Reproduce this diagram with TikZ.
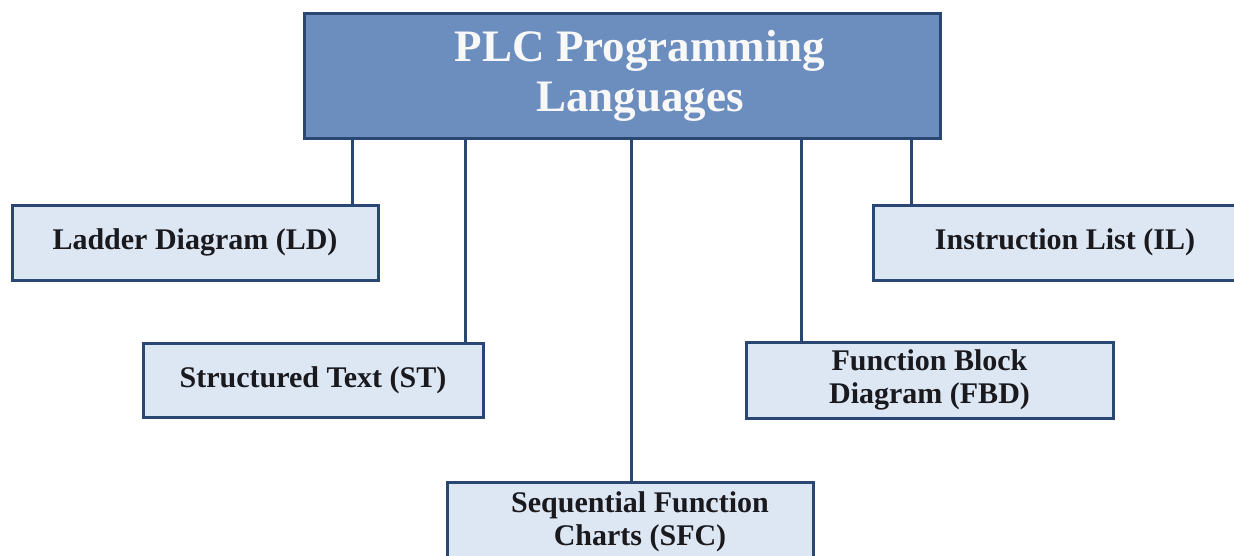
\documentclass[tikz,border=0pt]{standalone}
\usepackage{fontspec}
\setmainfont{Liberation Serif}
\definecolor{topfill}{RGB}{108,142,191}
\definecolor{edgeblue}{RGB}{42,70,115}
\definecolor{childfill}{RGB}{221,231,243}
\definecolor{titletext}{RGB}{248,248,248}
\definecolor{childtext}{RGB}{25,25,30}
\begin{document}
\begin{tikzpicture}[x=1pt,y=-1pt,
  topbox/.style={draw=edgeblue, line width=3pt, fill=topfill, text=titletext,
    font=\fontsize{45}{50}\selectfont\bfseries, align=center, inner sep=0pt},
  childbox/.style={draw=edgeblue, line width=3pt, fill=childfill, text=childtext,
    font=\fontsize{30}{32.5}\selectfont\bfseries, align=center, inner sep=0pt},
  link/.style={draw=edgeblue, line width=3pt}]
\useasboundingbox (0,0) rectangle (1234,555);
\fill[white] (0,0) rectangle (1234,555);

\node[topbox, minimum width=636pt, minimum height=125pt] (top) at (622,75.5)
  {\hspace*{36pt}PLC Programming\\\hspace*{36pt}Languages};

\node[childbox, minimum width=366pt, minimum height=75pt] (ld) at (195,242.5)
  {Ladder Diagram (LD)};
\node[childbox, minimum width=340pt, minimum height=74pt] (st) at (313,380)
  {Structured Text (ST)};
\node[childbox, minimum width=366pt, minimum height=80pt] (sfc) at (630,522)
  {\hspace*{20pt}Sequential Function\\\hspace*{20pt}Charts (SFC)};
\node[childbox, minimum width=367pt, minimum height=76pt] (fbd) at (929.5,380)
  {Function Block\\Diagram (FBD)};
\node[childbox, minimum width=384pt, minimum height=75pt] (il) at (1065,242.5)
  {Instruction List (IL)};

\draw[link] (top.south -| 352,0) -- (ld.north -| 352,0);
\draw[link] (top.south -| 465,0) -- (st.north -| 465,0);
\draw[link] (top.south -| 631,0) -- (sfc.north -| 631,0);
\draw[link] (top.south -| 801,0) -- (fbd.north -| 801,0);
\draw[link] (top.south -| 911,0) -- (il.north -| 911,0);
\end{tikzpicture}
\end{document}
